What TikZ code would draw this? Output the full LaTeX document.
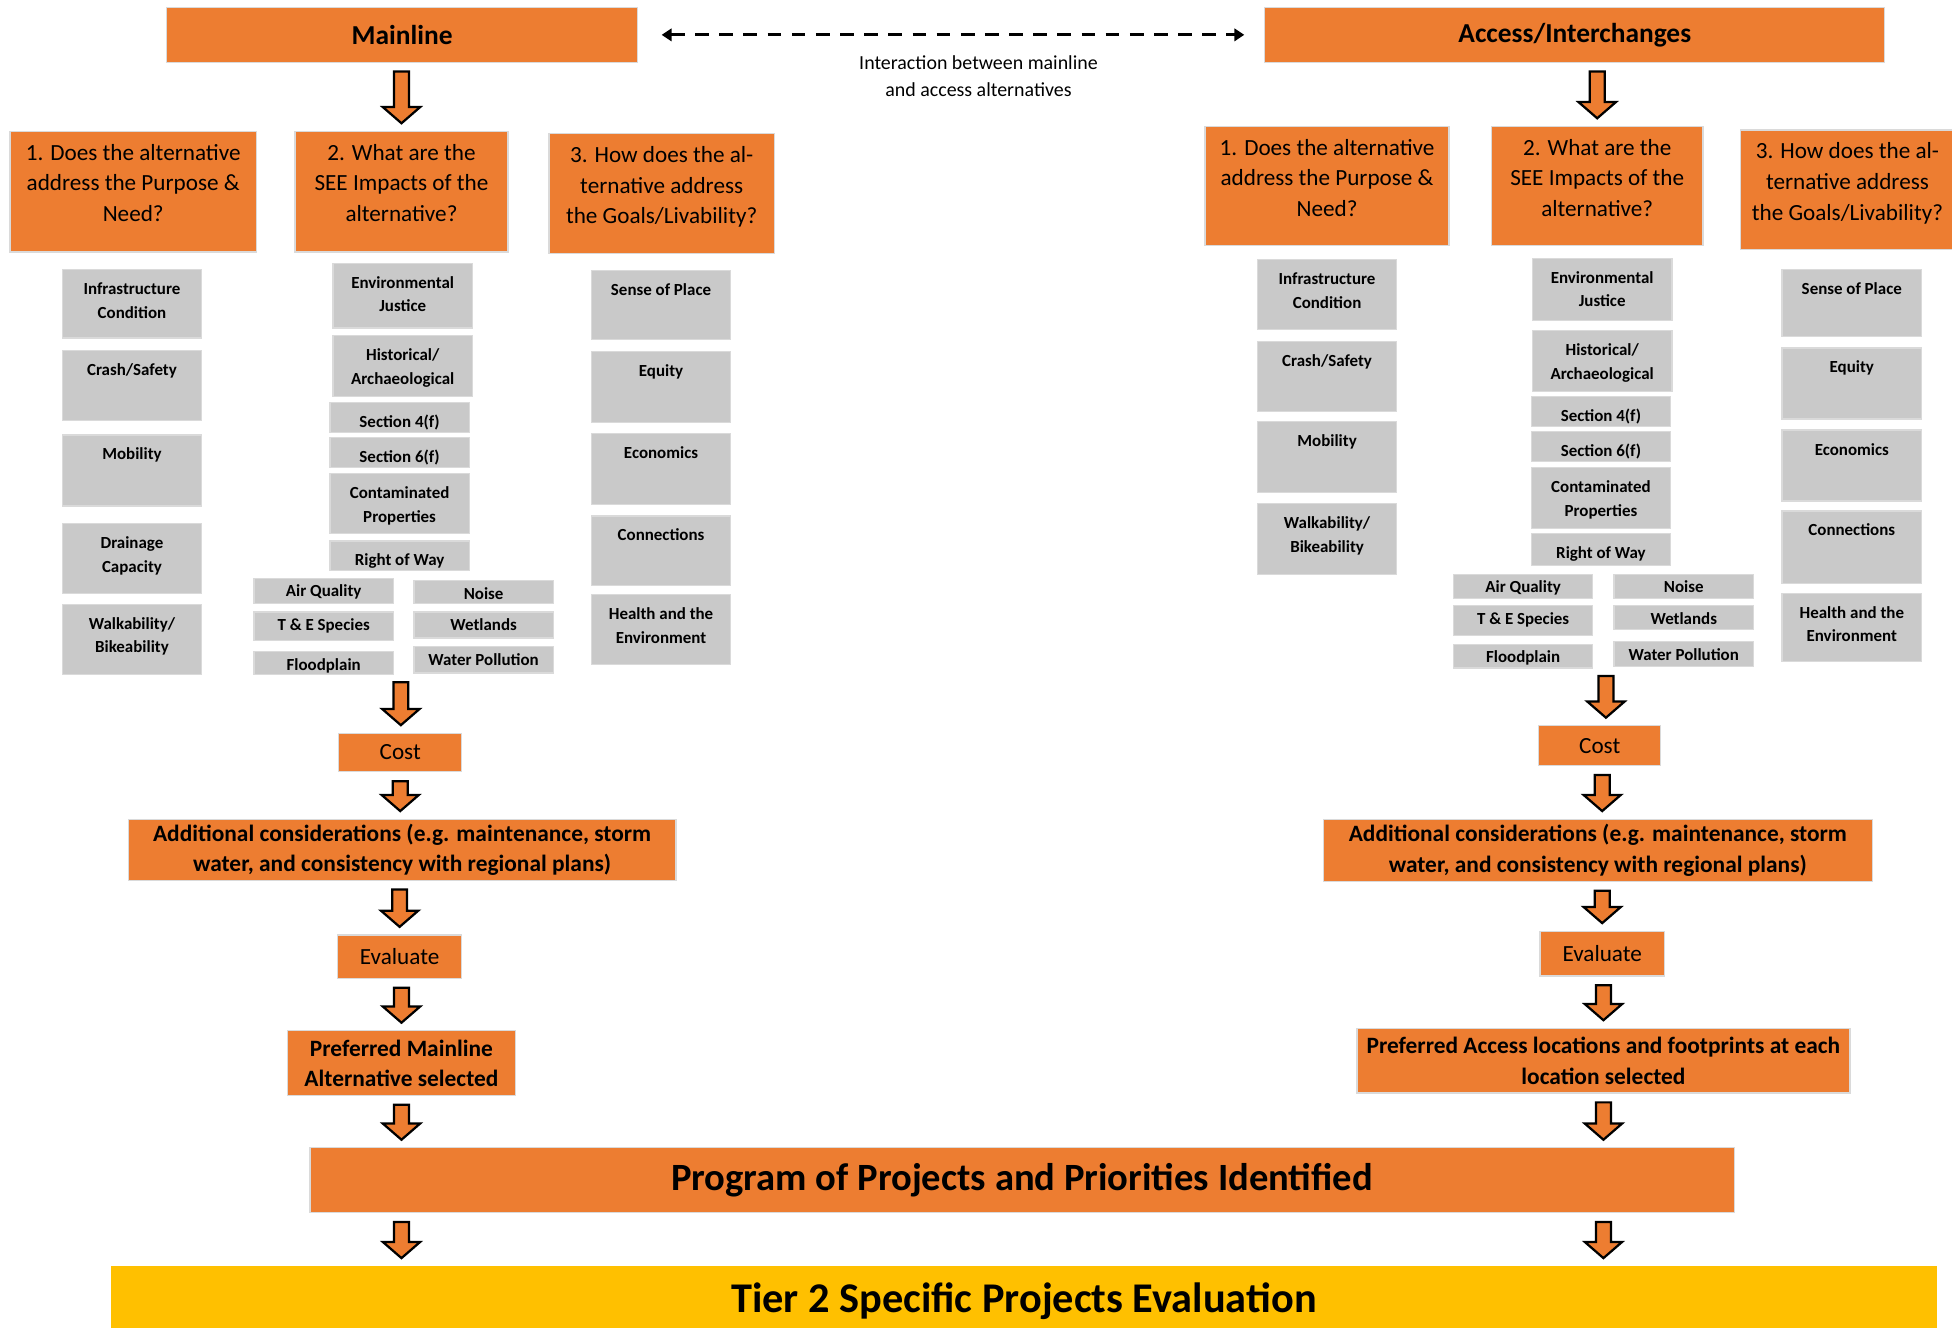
\documentclass[tikz,border=0pt]{standalone}
\usepackage{fontspec}
\setmainfont{Carlito}
\usetikzlibrary{arrows.meta,calc}

\definecolor{boxorange}{HTML}{ED7D31}
\definecolor{boxgray}{HTML}{C9C9C9}
\definecolor{boxgold}{HTML}{FFC000}
\definecolor{boxedge}{HTML}{DADADA}

\newcommand{\gfont}{\fontsize{6.8}{9.5}\selectfont\bfseries}
\newcommand{\qfont}{\fontsize{9.3}{12.3}\selectfont}
\newcommand{\bfont}{\fontsize{9.4}{12.2}\selectfont\bfseries}

% fat hollow arrow: x taken from #1, from #2 down to #3
\newcommand{\bigarrow}[3]{%
  \draw[blockarrow] let \p0=(#1), \p1=(#2), \p2=(#3) in
    (\x0-3pt,\y1-3.5pt) -- (\x0+3pt,\y1-3.5pt) -- (\x0+3pt,\y2+9.5pt)
    -- (\x0+7.5pt,\y2+9.5pt) -- (\x0,\y2+3pt) -- (\x0-7.5pt,\y2+9.5pt)
    -- (\x0-3pt,\y2+9.5pt) -- cycle;}

\begin{document}
\begin{tikzpicture}[x=.5pt,y=-.5pt,
  obox/.style={fill=boxorange, draw=boxedge, line width=.5pt, inner sep=0pt, align=center},
  qbox/.style={obox, anchor=north, align=flush center, font=\qfont, text height=11.6pt, text depth={(#1)*0.5pt-11.6pt}},
  gbox/.style={fill=boxgray, draw=boxedge, line width=.5pt, anchor=north, inner xsep=1pt,
    inner ysep=0pt, text width=54pt, align=flush center, font=\gfont,
    text height=10pt, text depth={(#1)*0.5pt-10pt}},
  sbox/.style={gbox=#1, text height=7.4pt, text depth={(#1)*0.5pt-7.4pt}},
  blockarrow/.style={fill=boxorange, draw=black, line width=.9pt, line join=miter},
  dashline/.style={draw=black, line width=1.1pt, dash pattern=on 5.5pt off 4.2pt,
    {Triangle[length=4pt,width=5pt]}-{Triangle[length=4pt,width=5pt]},
    shorten <=9.5pt, shorten >=8pt}]
\useasboundingbox (0,0) rectangle (1568,1066);

% heads
\node[obox,font=\fontsize{11}{13}\selectfont\bfseries,minimum width=189pt,minimum height=22pt] (main) at (323,28) {Mainline};
\node[obox,font=\fontsize{11}{13}\selectfont\bfseries,minimum width=249pt,minimum height=22pt] (acc) at (1265,28) {Access/Interchanges};
\draw[dashline] (main.east) -- (acc.west);
\node[align=center,font=\fontsize{8}{11}\selectfont] (inter) at (786,61) {Interaction between mainline\\and access alternatives};

% mainline side
\begin{scope}
\node[qbox=97,text width=99pt] (mq1) at (107,105) {1. Does the alternative\\address the Purpose \&\\Need?};
\node[qbox=97,text width=85.5pt] (mq2) at (322.5,105) {2. What are the\\SEE Impacts of the\\alternative?};
\node[qbox=96,text width=90.5pt] (mq3) at (531.5,107) {3. How does the al-\\ternative address\\the Goals/Livability?};

\foreach \n/\x/\y/\h/\lab in {ic/106/216/55/{Infrastructure\\Condition}, cs/106/281/56/{Crash/Safety},
    mo/106/349/57/{Mobility}, dc/106/420/56/{Drainage\\Capacity}, wb/106/485/56/{Walkability/\\Bikeability},
    ej/323.5/211/52/{Environmental\\Justice}, ha/323.5/269/49/{Historical/\\Archaeological},
    sa/321/323/24/{Section 4(f)}, sb/321/351/24/{Section 6(f)}, cp/321/380/48/{Contaminated\\Properties},
    rw/321/434/24/{Right of Way},
    sp/531/217/55/{Sense of Place}, eq/531/282/57/{Equity}, ec/531/348/57/{Economics},
    cn/531/414/56/{Connections}, he/531/477/56/{Health and the\\Environment}}
  \node[gbox=\h] (m-\n) at (\x,\y) {\lab};
\foreach \n/\x/\y/\h/\lab in {aq/260/464/20/{Air Quality}, no/388.5/466/18/{Noise},
    te/260/491/23/{T \& E Species}, we/388.5/491/21/{Wetlands},
    fp/260/523/18/{Floodplain}, wp/388.5/519/21/{Water Pollution}}
  \node[sbox=\h] (m-\n) at (\x,\y) {\lab};
\coordinate (mclu) at (322,541);

\node[obox,font=\qfont,minimum width=49.5pt,minimum height=15.5pt] (mcost) at (321.5,604.5) {Cost};
\node[obox,font=\bfont,minimum width=220pt,minimum height=24.5pt] (madd) at (323,682.5) {Additional considerations (e.g. maintenance, storm\\water, and consistency with regional plans)};
\node[obox,font=\qfont,minimum width=50pt,minimum height=17.5pt] (meval) at (321,768.5) {Evaluate};
\node[obox,font=\bfont,minimum width=91.5pt,minimum height=26pt] (mpref) at (322.5,854) {Preferred Mainline\\Alternative selected};
\end{scope}

% access side
\begin{scope}
\node[qbox=96,text width=98pt] (aq1) at (1066,101) {1. Does the alternative\\address the Purpose \&\\Need?};
\node[qbox=96,text width=85pt] (aq2) at (1283,101) {2. What are the\\SEE Impacts of the\\alternative?};
\node[qbox=96,text width=86pt] (aq3) at (1484,104) {3. How does the al-\\ternative address\\the Goals/Livability?};

\foreach \n/\x/\y/\h/\lab in {ic/1066/208/56/{Infrastructure\\Condition}, cs/1066/274/56/{Crash/Safety},
    mo/1066/338/57/{Mobility}, wb/1066/404/57/{Walkability/\\Bikeability},
    ej/1287/207/50/{Environmental\\Justice}, ha/1287/265/49/{Historical/\\Archaeological},
    sa/1286/318/24/{Section 4(f)}, sb/1286/346/24/{Section 6(f)}, cp/1286/375/49/{Contaminated\\Properties},
    rw/1286/428/26/{Right of Way},
    sp/1487.5/216/54/{Sense of Place}, eq/1487.5/279/57/{Equity}, ec/1487.5/345/57/{Economics},
    cn/1487.5/410/58/{Connections}, he/1487.5/476/55/{Health and the\\Environment}}
  \node[gbox=\h] (a-\n) at (\x,\y) {\lab};
\foreach \n/\x/\y/\h/\lab in {aq/1223.5/461/19/{Air Quality}, no/1352.5/461/19/{Noise},
    te/1223.5/486/24/{T \& E Species}, we/1352.5/486/19/{Wetlands},
    fp/1223.5/517/19/{Floodplain}, wp/1352.5/515/20/{Water Pollution}}
  \node[sbox=\h] (a-\n) at (\x,\y) {\lab};
\coordinate (aclu) at (1290,536);

\node[obox,font=\qfont,minimum width=49pt,minimum height=16pt] (acost) at (1285,599) {Cost};
\node[obox,font=\bfont,minimum width=220.5pt,minimum height=25pt] (aadd) at (1283.5,683) {Additional considerations (e.g. maintenance, storm\\water, and consistency with regional plans)};
\node[obox,font=\qfont,minimum width=50pt,minimum height=18pt] (aeval) at (1287,766) {Evaluate};
\node[obox,font=\bfont,minimum width=198pt,minimum height=26pt] (apref) at (1288,852) {Preferred Access locations and footprints at each\\location selected};
\end{scope}

% bottom
\node[obox,font=\fontsize{15.5}{18}\selectfont\bfseries,minimum width=572pt,minimum height=26pt] (prog) at (821,948) {Program of Projects and Priorities Identified};
\node[fill=boxgold,inner sep=0pt,font=\fontsize{17}{20}\selectfont\bfseries,minimum width=733.5pt,minimum height=28pt] (tier) at (822.5,1045) {Tier 2 Specific Projects Evaluation};

\bigarrow{mq2}{main.south}{mq2.north}
\bigarrow{aq2}{acc.south}{aq2.north}
\bigarrow{mclu}{mclu}{mcost.north}
\bigarrow{aclu}{aclu}{acost.north}
\bigarrow{mcost}{mcost.south}{madd.north}
\bigarrow{aeval}{acost.south}{aadd.north}
\bigarrow{meval}{madd.south}{meval.north}
\bigarrow{aeval}{aadd.south}{aeval.north}
\bigarrow{mpref}{meval.south}{mpref.north}
\bigarrow{apref}{aeval.south}{apref.north}
\bigarrow{mpref}{mpref.south}{prog.north}
\bigarrow{apref}{apref.south}{prog.north}
\bigarrow{mpref}{prog.south}{tier.north}
\bigarrow{apref}{prog.south}{tier.north}

\end{tikzpicture}
\end{document}
